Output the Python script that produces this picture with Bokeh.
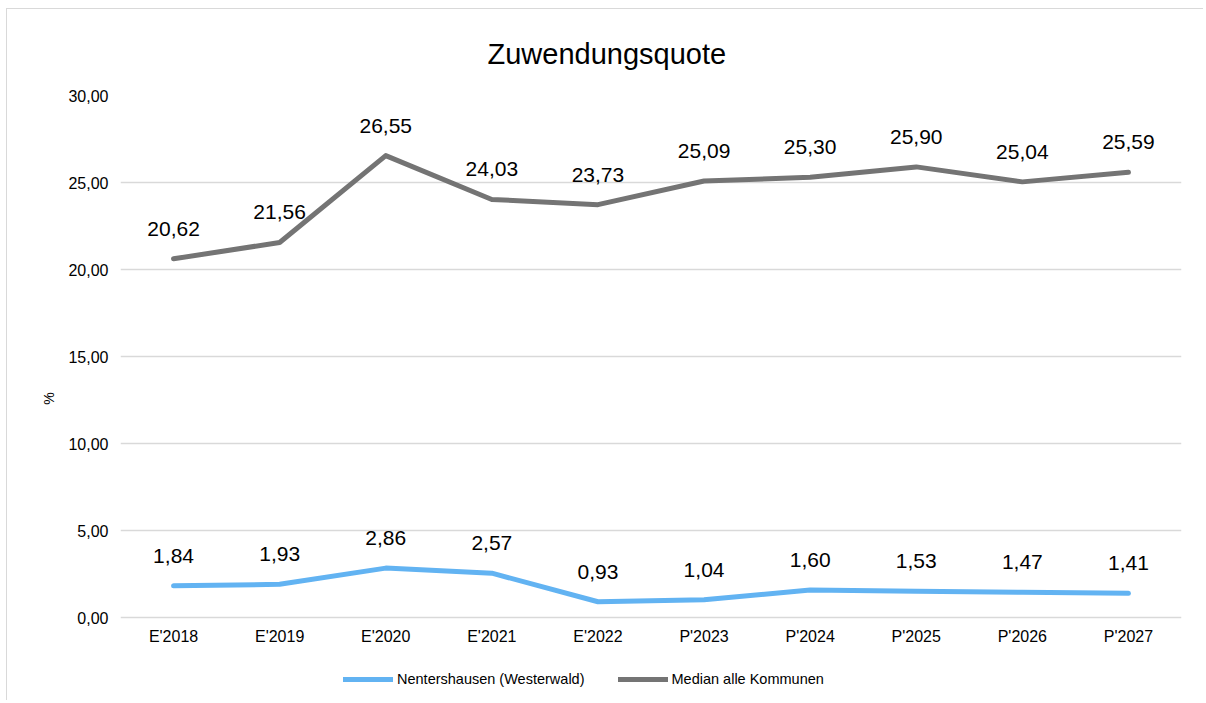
from bokeh.plotting import figure
from bokeh.models import ColumnDataSource, CustomJSTickFormatter, Legend, LegendItem, Range1d
from bokeh.core.properties import value
from bokeh.embed import file_html
from bokeh.resources import INLINE

categories = ["E'2018", "E'2019", "E'2020", "E'2021", "E'2022",
              "P'2023", "P'2024", "P'2025", "P'2026", "P'2027"]
nentershausen = [1.84, 1.93, 2.86, 2.57, 0.93, 1.04, 1.60, 1.53, 1.47, 1.41]
median_all = [20.62, 21.56, 26.55, 24.03, 23.73, 25.09, 25.30, 25.90, 25.04, 25.59]
series_names = ["Nentershausen (Westerwald)", "Median alle Kommunen"]
y_ticks = [0, 5, 10, 15, 20, 25, 30]

FONT = "Liberation Sans"
BLUE = "#62b3f2"
GREY = "#747474"

def fmt(v):
    return f"{v:.2f}".replace(".", ",")

src_a = ColumnDataSource(dict(x=categories, y=nentershausen, t=[fmt(v) for v in nentershausen]))
src_b = ColumnDataSource(dict(x=categories, y=median_all, t=[fmt(v) for v in median_all]))

p = figure(width=1197, height=692, x_range=categories, y_range=Range1d(-4.8, 30),
           output_backend="svg", toolbar_location=None,
           min_border_left=113, min_border_right=23, min_border_top=86, min_border_bottom=0)
p.styles = {"border-top": "1px solid #d9d9d9", "border-left": "1px solid #d9d9d9",
            "margin-left": "6px", "margin-top": "8px"}
p.outline_line_color = None
p.background_fill_color = "white"
p.border_fill_color = "white"

p.title.text = "Zuwendungsquote"
p.title.align = "left"
p.title.offset = 367
p.title.vertical_align = "middle"
p.title.text_font = FONT
p.title.text_font_size = "29px"
p.title.text_font_style = "normal"
p.title.text_color = "#000000"
p.title.standoff = 50

p.xgrid.grid_line_color = None
p.ygrid.grid_line_color = "#d9d9d9"
p.ygrid.grid_line_width = 1.5
p.yaxis.ticker = y_ticks
p.yaxis.formatter = CustomJSTickFormatter(code="return tick.toFixed(2).replace('.', ',');")
for ax in (p.xaxis, p.yaxis):
    ax.axis_line_color = None
    ax.major_tick_line_color = None
    ax.minor_tick_line_color = None
    ax.major_label_text_font = FONT
    ax.major_label_text_font_size = "16px"
    ax.major_label_text_color = "#000000"
p.xaxis.fixed_location = 0
p.xaxis.major_label_standoff = 4
p.yaxis.major_label_standoff = 6
p.yaxis.axis_label = "%"
p.yaxis.axis_label_text_font = FONT
p.yaxis.axis_label_text_font_size = "14px"
p.yaxis.axis_label_text_font_style = "normal"
p.yaxis.axis_label_text_color = "#000000"
p.yaxis.axis_label_standoff = 8

la = p.line("x", "y", source=src_a, line_color=BLUE, line_width=5, line_cap="round", line_join="round")
lb = p.line("x", "y", source=src_b, line_color=GREY, line_width=5, line_cap="round", line_join="round")

for src in (src_a, src_b):
    p.text("x", "y", text="t", source=src, text_font=value(FONT), text_font_size="21px",
           text_align="center", text_baseline="middle", y_offset=-30, text_color="#000000")

legend = Legend(items=[LegendItem(label=series_names[0], renderers=[la]),
                       LegendItem(label=series_names[1], renderers=[lb])],
                orientation="horizontal", location=(223, 14),
                label_text_font=FONT, label_text_font_size="14.5px", label_text_color="#000000",
                glyph_width=50, glyph_height=10, spacing=33, label_standoff=4,
                border_line_color=None, background_fill_alpha=0, margin=0, padding=6)
p.add_layout(legend)

open("out.html", "w").write(file_html(p, INLINE))
